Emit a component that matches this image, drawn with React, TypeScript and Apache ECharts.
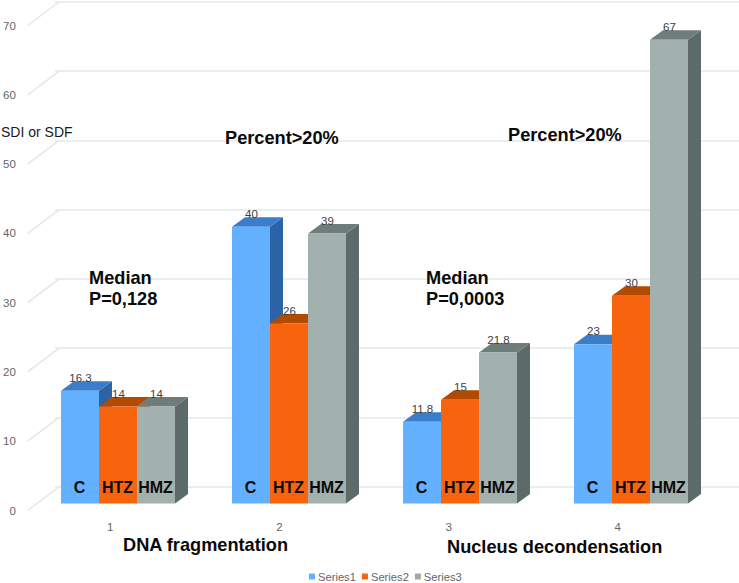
import React, { useEffect, useRef } from "react";
import * as echarts from "echarts";

const categories = ["1", "2", "3", "4"];
const seriesNames = ["Series1", "Series2", "Series3"];
const series1Values = [16.3, 40, 11.8, 23];
const series2Values = [14, 26, 15, 30];
const series3Values = [14, 39, 21.8, 67];
const barLetters = ["C", "HTZ", "HMZ"];
const yTicks = [0, 10, 20, 30, 40, 50, 60, 70];

const FONT = '"Liberation Sans", Arial, sans-serif';
const allValues = [series1Values, series2Values, series3Values];
const frontColors = ["#62B0FF", "#F8640E", "#A2B0AE"];
const topColors = ["#3A7DCB", "#B24A02", "#6F7D7A"];
const sideColors = ["#2C63A6", "#A84500", "#5C6A69"];
const GRID_LINE = "#e4e8e8";
const DX = 13;
const DY = 9.5;

function makeBarRender(si: number) {
  return (_params: any, api: any) => {
    const idx = api.value(0);
    const val = api.value(1);
    const top = api.coord([idx, val]);
    const base = api.coord([idx, 0]);
    const band = api.size([1, 0])[0];
    const w = (band * 38) / 171;
    const x0 = top[0] - (w * 3) / 2 + si * w;
    const x1 = x0 + w;
    const yT = top[1];
    const yB = base[1];
    return {
      type: "group",
      children: [
        {
          type: "polygon",
          shape: { points: [[x1, yT], [x1 + DX, yT - DY], [x1 + DX, yB - DY], [x1, yB]] },
          style: { fill: sideColors[si] },
        },
        {
          type: "polygon",
          shape: { points: [[x0, yT], [x0 + DX, yT - DY], [x1 + DX, yT - DY], [x1, yT]] },
          style: { fill: topColors[si] },
        },
        {
          type: "rect",
          shape: { x: x0, y: yT, width: w, height: yB - yT },
          style: { fill: frontColors[si] },
        },
        {
          type: "text",
          z2: 20,
          style: {
            text: String(val),
            x: (x0 + x1) / 2 + 0.5,
            y: yT - 13,
            align: "center",
            verticalAlign: "middle",
            fill: "#404040",
            font: `11.5px ${FONT}`,
          },
        },
        {
          type: "text",
          z2: 20,
          style: {
            text: barLetters[si],
            x: (x0 + x1) / 2 - 0.5,
            y: yB - 16,
            align: "center",
            verticalAlign: "middle",
            fill: "#0a0a0a",
            font: `bold 16px ${FONT}`,
          },
        },
      ],
    };
  };
}

function renderDiagonal(params: any, api: any) {
  const p = api.coord([0, api.value(1)]);
  const x = params.coordSys.x;
  return {
    type: "line",
    shape: { x1: x + 2, y1: p[1], x2: x + 34, y2: p[1] - 24 },
    style: { stroke: GRID_LINE, lineWidth: 1.5 },
  };
}

function note(text: string, x: number, y: number, size = 18.2) {
  return {
    type: "text",
    x,
    y,
    z: 30,
    style: {
      text,
      fill: "#0a0a0a",
      font: `bold ${size}px ${FONT}`,
      verticalAlign: "middle",
    },
  };
}

export default function App() {
  const ref = useRef<HTMLDivElement>(null);
  useEffect(() => {
    document.body.style.margin = "0";
    const chart = echarts.init(ref.current!, null, { renderer: "svg" });
    const hiddenX = { type: "category", data: categories, show: false };
    chart.setOption({
      animation: false,
      backgroundColor: "#fff",
      textStyle: { fontFamily: FONT },
      grid: [
        { left: 32.5, width: 684, top: 19, height: 484.5 },
        { left: 55, right: 0, top: 1.7, height: 485 },
        { left: 21, width: 681.4, top: 25.5, height: 485 },
      ],
      xAxis: [
        { ...hiddenX, gridIndex: 0 },
        { ...hiddenX, gridIndex: 1 },
        {
          type: "category",
          data: categories,
          gridIndex: 2,
          axisLine: { show: false },
          axisTick: { show: false },
          axisLabel: { color: "#666", fontSize: 11.5, margin: 10, fontFamily: FONT },
        },
      ],
      yAxis: [
        { type: "value", min: 0, max: 70, interval: 10, gridIndex: 0, show: false },
        {
          type: "value",
          min: 0,
          max: 70,
          interval: 10,
          gridIndex: 1,
          axisLabel: { show: false },
          axisLine: { show: false },
          axisTick: { show: false },
          splitLine: { show: true, lineStyle: { color: GRID_LINE, width: 1.5 } },
        },
        {
          type: "value",
          min: 0,
          max: 70,
          interval: 10,
          gridIndex: 2,
          axisLine: { show: false },
          axisTick: { show: false },
          splitLine: { show: false },
          axisLabel: { color: "#666", fontSize: 11.5, margin: 9.8, fontFamily: FONT },
        },
      ],
      legend: {
        data: seriesNames,
        left: 309,
        top: 571,
        icon: "rect",
        itemWidth: 6,
        itemHeight: 6,
        itemGap: 6,
        padding: 0,
        textStyle: { color: "#666", fontSize: 11.2, fontFamily: FONT, padding: [0, 0, 0, -2] },
      },
      series: [
        {
          type: "custom",
          name: "walls",
          xAxisIndex: 2,
          yAxisIndex: 2,
          silent: true,
          clip: false,
          z: 1,
          renderItem: renderDiagonal,
          data: yTicks.map((v) => [0, v]),
          encode: { x: 0, y: 1 },
        },
        ...seriesNames.map((name, si) => ({
          type: "custom",
          name,
          xAxisIndex: 0,
          yAxisIndex: 0,
          clip: false,
          z: 2 + si,
          itemStyle: { color: si === 2 ? "#A6A6A6" : frontColors[si] },
          renderItem: makeBarRender(si),
          data: allValues[si].map((v, i) => [i, v]),
          encode: { x: 0, y: 1 },
        })),
      ],
      graphic: [
        {
          type: "text",
          x: 1,
          y: 132,
          z: 30,
          style: { text: "SDI or SDF", fill: "#1a1a1a", font: `14px ${FONT}`, verticalAlign: "middle" },
        },
        note("Percent>20%", 225, 137.5),
        note("Percent>20%", 508, 134.5),
        note("Median", 89, 277.5),
        note("P=0,128", 89, 298.5),
        note("Median", 426, 277.5),
        note("P=0,0003", 426, 298.5),
        note("DNA fragmentation", 123, 544.5),
        note("Nucleus decondensation", 447, 546.5),
      ],
    });
    return () => chart.dispose();
  }, []);
  return <div ref={ref} style={{ width: 739, height: 583 }} />;
}
